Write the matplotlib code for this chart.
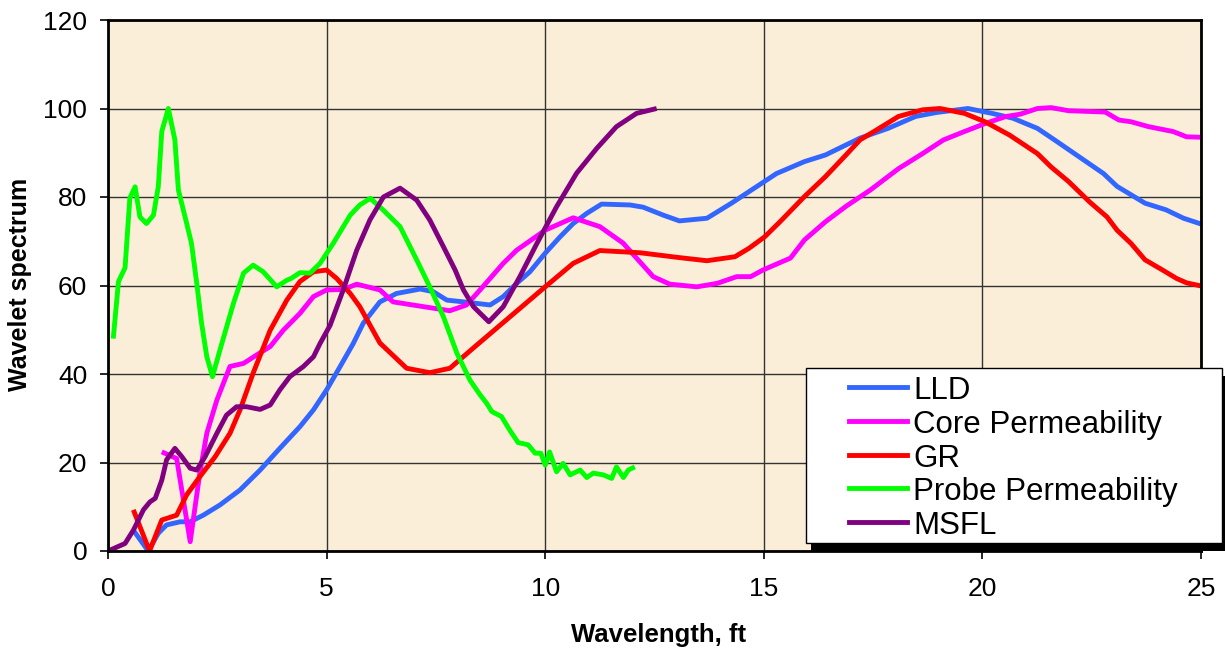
import matplotlib
matplotlib.use("Agg")
import matplotlib.pyplot as plt
from matplotlib.patches import Rectangle
from matplotlib.lines import Line2D

plt.rcParams["font.family"] = ["Liberation Sans", "DejaVu Sans"]

# Wavelet spectra (wavelength in ft, spectrum in %)
lld_x = [0.58, 0.92, 1.15, 1.34, 1.65, 1.88, 2.18, 2.56, 3.02, 3.48, 3.93, 4.39, 4.7, 5.0,
         5.31, 5.61, 5.84, 6.22, 6.6, 7.14, 7.44, 7.75, 8.13, 8.74, 9.04, 9.35, 9.65, 10.0,
         10.34, 10.64, 10.95, 11.29, 11.94, 12.24, 12.7, 13.07, 13.7, 14.26, 14.66, 15.29,
         15.93, 16.41, 17.2, 17.84, 18.47, 18.95, 19.67, 20.22, 20.7, 21.26, 21.65, 22.21,
         22.77, 23.08, 23.72, 24.2, 24.6, 25.0]
lld_y = [4.7, 0, 4, 5.9, 6.6, 6.6, 8.1, 10.4, 13.8, 18.3, 23.2, 28.1, 31.9, 36.4,
         41.7, 46.9, 51.5, 56.3, 58.2, 59.2, 58.6, 56.7, 56.3, 55.6, 57.5, 60.5, 63.1, 67.3,
         71, 74, 76.3, 78.4, 78.2, 77.7, 75.9, 74.6, 75.2, 78.6, 81.2, 85.3,
         88, 89.5, 93.3, 95.5, 98.2, 99.1, 100, 98.9, 97.8, 95.5, 92.9, 89.1,
         85.3, 82.4, 78.6, 77.1, 75.2, 73.9]

core_x = [1.23, 1.57, 1.88, 2.1, 2.26, 2.49, 2.79, 3.1, 3.4, 3.71, 4.01, 4.39, 4.7, 5.0,
          5.38, 5.69, 6.22, 6.52, 7.29, 7.82, 8.2, 8.51, 9.04, 9.35, 10.0, 10.64, 11.25,
          11.78, 12.47, 12.85, 13.47, 13.94, 14.38, 14.7, 14.98, 15.61, 15.93, 16.41, 16.88,
          17.44, 18.08, 18.63, 19.11, 19.59, 20.06, 20.54, 20.86, 21.26, 21.57, 21.97, 22.81,
          23.12, 23.4, 23.8, 24.36, 24.67, 25.0]
core_y = [22.4, 20.9, 2.1, 17.6, 26.6, 34.1, 41.7, 42.4, 44.3, 46.2, 49.9, 53.7, 57.5, 59,
          59.1, 60.3, 59, 56.3, 55.1, 54.3, 55.6, 59, 65, 68, 72.5, 75.3, 73.3,
          69.6, 62, 60.3, 59.7, 60.5, 62, 62, 63.5, 66.2, 70.3, 74.4, 77.9,
          81.6, 86.4, 89.8, 92.9, 94.8, 96.6, 98.2, 98.7, 100, 100.2, 99.5, 99.2,
          97.4, 97, 95.9, 94.8, 93.6, 93.5]

gr_x = [0.58, 0.95, 1.23, 1.57, 1.8, 2.1, 2.45, 2.79, 3.02, 3.32, 3.71, 4.09, 4.39, 4.7,
        5.0, 5.23, 5.54, 5.76, 6.22, 6.83, 7.36, 7.82, 8.43, 10.0, 10.64, 11.25, 12.17,
        13.07, 13.7, 14.34, 14.66, 15.02, 15.37, 15.93, 16.41, 16.88, 17.2, 17.52, 18.08,
        18.63, 19.03, 19.59, 20.06, 20.62, 21.26, 21.57, 21.97, 22.45, 22.85, 23.08, 23.4,
        23.72, 24.12, 24.44, 24.67, 25.0]
gr_y = [9.3, 0, 7, 8.1, 12.7, 16.8, 21.3, 26.6, 31.9, 40.2, 49.9, 56.7, 60.9, 63.1,
        63.5, 61.6, 58.2, 55.2, 47, 41.3, 40.3, 41.3, 46.5, 59.7, 65, 67.9, 67.4,
        66.3, 65.6, 66.5, 68.4, 71, 74.4, 80.1, 84.6, 89.5, 92.9, 94.8, 98.2,
        99.7, 100, 98.9, 97, 94, 89.8, 86.8, 83.5, 78.9, 75.5, 72.5, 69.5,
        65.8, 63.5, 61.6, 60.6, 59.9]

probe_x = [0.12, 0.24, 0.39, 0.5, 0.62, 0.73, 0.88, 1.04, 1.15, 1.23, 1.38, 1.53, 1.61, 1.8,
           1.91, 2.03, 2.14, 2.26, 2.39, 2.56, 2.87, 3.1, 3.32, 3.55, 3.86, 4.09, 4.19, 4.39,
           4.62, 4.85, 5.15, 5.54, 5.76, 6.0, 6.3, 6.68, 7.06, 7.36, 7.67, 7.98, 8.28, 8.51,
           8.66, 8.78, 9.0, 9.19, 9.38, 9.61, 9.77, 9.9, 10.0, 10.1, 10.26, 10.41, 10.57,
           10.8, 10.95, 11.1, 11.33, 11.52, 11.63, 11.79, 11.9, 12.05]
probe_y = [48, 60.9, 64, 79.8, 82.3, 75.5, 74, 75.9, 82.3, 94.8, 100, 92.9, 81.6, 74,
           69.5, 60.5, 51.5, 43.9, 39.4, 45.4, 56, 62.8, 64.6, 63.1, 59.7, 61.2, 61.6, 62.9,
           62.8, 65, 69.5, 75.9, 78.2, 79.7, 77, 73.3, 65.8, 59.7, 53, 44.7, 38.6, 35.3,
           33.4, 31.5, 30.4, 27.3, 24.5, 24, 22.1, 22.1, 19.4, 22.4, 17.9, 19.8, 17.2,
           18.3, 16.6, 17.6, 17.2, 16.4, 19, 16.6, 18.3, 19]

msfl_x = [0.0, 0.39, 0.58, 0.81, 0.96, 1.08, 1.23, 1.34, 1.53, 1.69, 1.88, 2.03, 2.22, 2.49,
          2.71, 2.94, 3.17, 3.48, 3.71, 3.93, 4.16, 4.47, 4.7, 4.85, 5.08, 5.38, 5.69, 5.99,
          6.3, 6.68, 7.06, 7.36, 7.67, 7.94, 8.13, 8.36, 8.71, 9.04, 9.42, 9.81, 10.26,
          10.72, 11.18, 11.63, 12.09, 12.55]
msfl_y = [0, 1.7, 4.7, 9.3, 11.1, 11.9, 16, 20.6, 23.2, 21.3, 18.7, 18.3, 21.3, 26.6,
          30.7, 32.6, 32.6, 32, 33, 36.4, 39.4, 41.7, 43.9, 46.9, 51, 59, 68, 74.8,
          80, 82, 79.3, 74.8, 68.8, 63.5, 59, 55.2, 51.8, 55.2, 62, 69.5, 77.8,
          85.4, 91, 95.9, 98.9, 100]

names = ["LLD", "Core Permeability", "GR", "Probe Permeability", "MSFL"]
colors = ["#3366FF", "#FF00FF", "#FF0000", "#00FF00", "#800080"]
series = [(lld_x, lld_y), (core_x, core_y), (gr_x, gr_y), (probe_x, probe_y), (msfl_x, msfl_y)]

W, H = 1225, 653
fig = plt.figure(figsize=(W / 100, H / 100), dpi=100)
fig.patch.set_facecolor("white")

# plot area in pixels: left 108, right 1201, top 20, bottom 551
ax = fig.add_axes([108 / W, 1 - 551 / H, (1201 - 108) / W, (551 - 20) / H])
ax.set_facecolor("#FAEED8")

for (xs, ys), c, n in zip(series, colors, names):
    ax.plot(xs, ys, color=c, lw=3.5, label=n, solid_joinstyle="round", solid_capstyle="butt")

ax.set_xlim(0, 25)
ax.set_ylim(0, 120)
ax.set_xticks(range(0, 26, 5))
ax.set_yticks(range(0, 121, 20))
ax.grid(True, color="#333333", lw=1.0)
ax.set_axisbelow(True)
for sp in ax.spines.values():
    sp.set_linewidth(2.0)
    sp.set_color("black")
ax.tick_params(direction="out", length=6, width=1.2, labelsize=19)
ax.tick_params(axis="x", pad=13)
ax.tick_params(axis="y", pad=9)

ax.set_xlabel("Wavelength, ft", fontsize=18.5, fontweight="bold")
ax.xaxis.label.set_va("center")
ax.xaxis.set_label_coords((659 - 108) / (1201 - 108), (551 - 635) / (551 - 20))
ax.set_ylabel("Wavelet spectrum", fontsize=18, fontweight="bold")
ax.yaxis.label.set_va("center")
ax.yaxis.set_label_coords((20 - 108) / (1201 - 108), (551 - 284) / (551 - 20))

# legend box with a hard black shadow, drawn in figure pixels
def fx(px):
    return px / W

def fy(py):
    return 1 - py / H

bx0, by0, bx1, by1 = 806, 368, 1222, 543
fig.patches.append(Rectangle((fx(bx0 + 5), fy(by1 + 8)), fx(bx1 - bx0), (by1 - by0) / H,
                             transform=fig.transFigure, facecolor="black", edgecolor="none", zorder=3))
fig.patches.append(Rectangle((fx(bx0), fy(by1)), fx(bx1 - bx0), (by1 - by0) / H,
                             transform=fig.transFigure, facecolor="white", edgecolor="black",
                             lw=1.0, zorder=4))
for i, (n, c) in enumerate(zip(names, colors)):
    yl = 387 + i * 33.8
    fig.lines.append(Line2D([fx(849), fx(907)], [fy(yl), fy(yl)], transform=fig.transFigure,
                            color=c, lw=3.5, zorder=5))
    fig.text(fx(913), fy(yl + 12), n, fontsize=22.5, ha="left", va="baseline", zorder=5)

fig.savefig("out.png", dpi=100)
